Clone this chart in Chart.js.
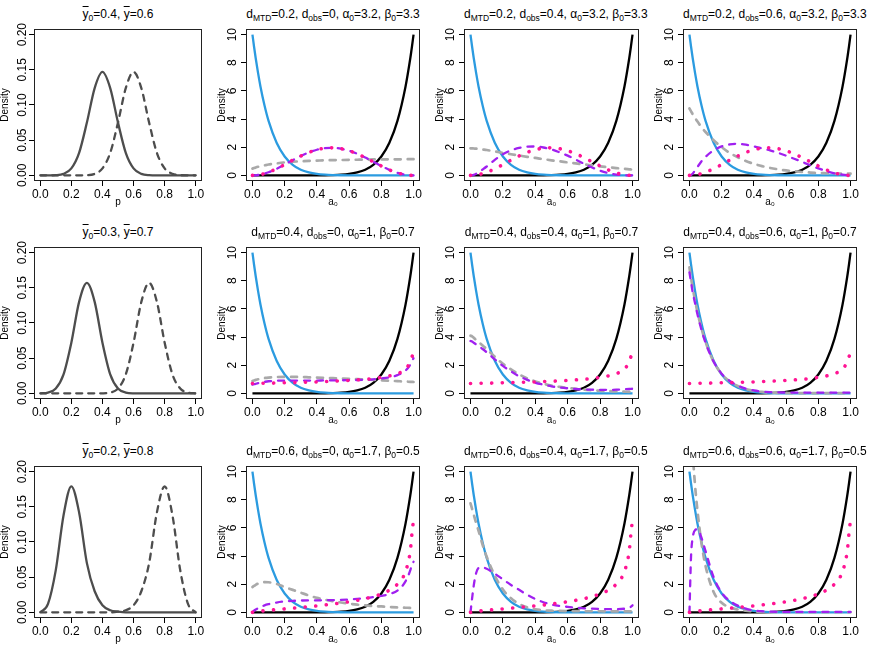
<!DOCTYPE html>
<html><head><meta charset="utf-8">
<script src="https://cdn.jsdelivr.net/npm/chart.js@4"></script>
<style>
html,body{margin:0;padding:0;background:#fff;}
body{width:872px;height:654px;position:relative;overflow:hidden;font-family:"Liberation Sans","DejaVu Sans",Arial,sans-serif;}
canvas{position:absolute;}
.ttl{position:absolute;text-align:center;font-size:12px;line-height:18px;white-space:nowrap;color:#000;}
.ttl sub{font-size:8.5px;vertical-align:-3px;line-height:0;}
.ob{text-decoration:overline;}
</style></head><body>
<script>
// ---------- tick labels ----------
const xTickVals = [0, 0.2, 0.4, 0.6, 0.8, 1.0];
const xTickLabels = ['0.0', '0.2', '0.4', '0.6', '0.8', '1.0'];
const a0YTickVals = [0, 2, 4, 6, 8, 10];
const a0YTickLabels = ['0', '2', '4', '6', '8', '10'];
const densYTickVals = [0, 0.05, 0.10, 0.15, 0.20];
const densYTickLabels = ['0.00', '0.05', '0.10', '0.15', '0.20'];

// ---------- panel parameters ----------
const ybar0 = [0.4, 0.3, 0.2];
const ybar = [0.6, 0.7, 0.8];
const dMTD = [0.2, 0.4, 0.6];
const dObs = [0, 0.4, 0.6];
const alpha0 = [3.2, 1, 1.7];
const beta0 = [3.3, 0.7, 0.5];

// ---------- column 1: densities over p ----------
const pGrid = [0, 0.05, 0.1, 0.15, 0.2, 0.25, 0.3, 0.35, 0.4, 0.45, 0.5, 0.55, 0.6, 0.65, 0.7, 0.75, 0.8, 0.85, 0.9, 0.95, 1.0];
const solidRow1 = [0, 0, 0.0003, 0.0022, 0.0099, 0.032, 0.075, 0.124, 0.147, 0.124, 0.075, 0.032, 0.0099, 0.0022, 0.0003, 0, 0, 0, 0, 0, 0];
const dashedRow1 = [0, 0, 0, 0, 0, 0, 0.0003, 0.0022, 0.0099, 0.032, 0.075, 0.124, 0.147, 0.124, 0.075, 0.032, 0.0099, 0.0022, 0.0003, 0, 0];
const solidRow2 = [0, 0.0012, 0.0069, 0.027, 0.072, 0.130, 0.157, 0.130, 0.072, 0.027, 0.0069, 0.0012, 0.0001, 0, 0, 0, 0, 0, 0, 0, 0];
const dashedRow2 = [0, 0, 0, 0, 0, 0, 0, 0, 0.0001, 0.0012, 0.0069, 0.027, 0.072, 0.130, 0.157, 0.130, 0.072, 0.027, 0.0069, 0.0012, 0];
const solidRow3 = [0, 0.012, 0.06, 0.138, 0.179, 0.142, 0.07, 0.03, 0.01, 0.003, 0.001, 0, 0, 0, 0, 0, 0, 0, 0, 0, 0];
const dashedRow3 = [0, 0, 0, 0, 0, 0, 0, 0, 0, 0, 0.001, 0.003, 0.01, 0.03, 0.07, 0.142, 0.179, 0.138, 0.06, 0.012, 0];

// ---------- columns 2-4: densities over a0 ----------
const aGrid = [0, 0.01, 0.02, 0.035, 0.05, 0.075, 0.1, 0.15, 0.2, 0.25, 0.3, 0.35, 0.4, 0.45, 0.5, 0.55, 0.6, 0.65, 0.7, 0.75, 0.8, 0.85, 0.9, 0.95, 0.98, 0.99, 1.0];
const blueCurve = [10, 9.14, 8.34, 7.26, 6.30, 4.96, 3.87, 2.32, 1.34, 0.75, 0.40, 0.21, 0.10, 0.046, 0.02, 0.008, 0.003, 0.001, 0, 0, 0, 0, 0, 0, 0, 0, 0];
const blackCurve = [0, 0, 0, 0, 0, 0, 0, 0, 0, 0, 0, 0.001, 0.003, 0.008, 0.02, 0.046, 0.10, 0.21, 0.40, 0.75, 1.34, 2.32, 3.87, 6.30, 8.34, 9.14, 10];
const pinkRow1 = [0, 0.002, 0.008, 0.026, 0.054, 0.124, 0.219, 0.469, 0.768, 1.082, 1.378, 1.632, 1.821, 1.931, 1.956, 1.892, 1.748, 1.534, 1.266, 0.969, 0.669, 0.394, 0.176, 0.040, 0.005, 0.001, 0];
const pinkRow2 = [0.70, 0.70, 0.70, 0.71, 0.71, 0.72, 0.72, 0.74, 0.75, 0.76, 0.78, 0.80, 0.81, 0.84, 0.86, 0.89, 0.92, 0.96, 1.00, 1.06, 1.14, 1.24, 1.40, 1.72, 2.26, 2.6, 2.8];
const pinkRow3 = [0, 0.027, 0.045, 0.067, 0.086, 0.116, 0.144, 0.197, 0.248, 0.299, 0.352, 0.407, 0.465, 0.527, 0.596, 0.671, 0.757, 0.855, 0.973, 1.119, 1.309, 1.577, 2.01, 2.9, 4.4, 5.6, 6.6];

const gray12 = [0.48, 0.52, 0.56, 0.61, 0.65, 0.71, 0.77, 0.85, 0.92, 0.97, 1.0, 1.03, 1.05, 1.07, 1.08, 1.09, 1.1, 1.11, 1.12, 1.13, 1.13, 1.14, 1.14, 1.15, 1.15, 1.15, 1.15];
const purple12 = [0, 0.002, 0.008, 0.026, 0.054, 0.124, 0.219, 0.469, 0.768, 1.082, 1.378, 1.632, 1.821, 1.931, 1.956, 1.892, 1.748, 1.534, 1.266, 0.969, 0.669, 0.394, 0.176, 0.040, 0.005, 0.001, 0];
const gray13 = [1.92, 1.92, 1.91, 1.9, 1.88, 1.84, 1.8, 1.7, 1.6, 1.5, 1.41, 1.32, 1.24, 1.15, 1.07, 1.0, 0.92, 0.85, 0.78, 0.71, 0.64, 0.58, 0.52, 0.46, 0.43, 0.42, 0.41];
const purple13 = [0, 0.01, 0.04, 0.12, 0.22, 0.42, 0.63, 1.1, 1.5, 1.78, 1.95, 2.04, 2.05, 1.98, 1.84, 1.64, 1.4, 1.12, 0.83, 0.56, 0.33, 0.16, 0.06, 0.01, 0, 0, 0];
const gray14 = [4.75, 4.55, 4.35, 4.08, 3.82, 3.42, 3.08, 2.5, 2.0, 1.6, 1.28, 1.02, 0.82, 0.66, 0.53, 0.43, 0.35, 0.29, 0.24, 0.2, 0.17, 0.15, 0.13, 0.12, 0.12, 0.12, 0.12];
const purple14 = [0, 0.03, 0.12, 0.35, 0.6, 1.0, 1.32, 1.78, 2.06, 2.2, 2.24, 2.18, 2.06, 1.92, 1.78, 1.6, 1.4, 1.18, 0.95, 0.72, 0.5, 0.3, 0.15, 0.05, 0.01, 0, 0];

const gray22 = [0.88, 0.92, 0.96, 1.0, 1.04, 1.09, 1.12, 1.16, 1.17, 1.17, 1.16, 1.14, 1.12, 1.1, 1.08, 1.06, 1.04, 1.01, 0.99, 0.96, 0.93, 0.9, 0.87, 0.84, 0.82, 0.82, 0.81];
const purple22 = [0.62, 0.65, 0.68, 0.73, 0.77, 0.82, 0.86, 0.9, 0.91, 0.91, 0.91, 0.91, 0.91, 0.92, 0.92, 0.93, 0.94, 0.95, 0.97, 1.0, 1.06, 1.14, 1.30, 1.62, 2.05, 2.3, 2.5];
const gray23 = [4.1, 4.05, 3.95, 3.8, 3.65, 3.4, 3.15, 2.6, 2.1, 1.7, 1.35, 1.07, 0.85, 0.68, 0.55, 0.46, 0.39, 0.32, 0.27, 0.22, 0.19, 0.16, 0.14, 0.12, 0.11, 0.11, 0.1];
const purple23 = [3.72, 3.68, 3.6, 3.48, 3.36, 3.15, 2.92, 2.42, 1.95, 1.56, 1.22, 0.96, 0.76, 0.62, 0.5, 0.42, 0.36, 0.31, 0.28, 0.26, 0.25, 0.25, 0.26, 0.29, 0.31, 0.32, 0.33];
const gray24 = [8.95, 8.2, 7.5, 6.6, 5.75, 4.6, 3.65, 2.25, 1.38, 0.85, 0.52, 0.31, 0.18, 0.1, 0.06, 0.04, 0.03, 0.02, 0.02, 0.02, 0.02, 0.02, 0.02, 0.02, 0.02, 0.02, 0.02];
const purple24 = [8.6, 7.9, 7.2, 6.4, 5.6, 4.5, 3.6, 2.25, 1.4, 0.88, 0.55, 0.34, 0.21, 0.13, 0.09, 0.07, 0.06, 0.05, 0.05, 0.05, 0.05, 0.05, 0.05, 0.05, 0.05, 0.05, 0.05];

const gray32 = [1.8, 1.88, 1.95, 2.05, 2.1, 2.15, 2.14, 2.02, 1.8, 1.6, 1.4, 1.2, 1.03, 0.9, 0.79, 0.7, 0.62, 0.55, 0.5, 0.45, 0.42, 0.38, 0.35, 0.33, 0.32, 0.31, 0.31];
const purple32 = [0, 0.12, 0.2, 0.3, 0.38, 0.5, 0.58, 0.7, 0.78, 0.82, 0.84, 0.85, 0.85, 0.86, 0.87, 0.89, 0.92, 0.96, 1.01, 1.08, 1.17, 1.3, 1.55, 2.2, 3.0, 3.4, 3.6];
const gray33 = [7.75, 7.35, 6.95, 6.35, 5.8, 4.8, 3.95, 2.6, 1.62, 1.0, 0.6, 0.36, 0.22, 0.15, 0.12, 0.1, 0.09, 0.09, 0.08, 0.08, 0.08, 0.07, 0.07, 0.07, 0.07, 0.07, 0.07];
const purple33 = [0, 1.0, 1.9, 2.8, 3.15, 3.2, 3.1, 2.75, 2.35, 1.95, 1.6, 1.25, 0.95, 0.72, 0.56, 0.46, 0.39, 0.33, 0.29, 0.26, 0.24, 0.23, 0.23, 0.26, 0.33, 0.4, 0.5];
const gray34 = [18, 15, 11.6, 9.0, 7.2, 4.9, 3.3, 1.45, 0.68, 0.35, 0.2, 0.12, 0.07, 0.04, 0.02, 0.01, 0.01, 0.01, 0.01, 0.01, 0.01, 0.01, 0.01, 0.01, 0.01, 0.01, 0.01];
const purple34 = [0, 4.0, 5.3, 5.85, 5.9, 5.3, 4.35, 2.5, 1.4, 0.82, 0.48, 0.27, 0.14, 0.08, 0.05, 0.04, 0.03, 0.03, 0.03, 0.03, 0.03, 0.03, 0.03, 0.03, 0.03, 0.03, 0.03];

// ---------- layout (page pixels) ----------
const colLeft = [34, 246, 464, 683];
const colWidth = [168, 174, 175, 174];
const rowTop = [29, 247, 466];
const boxH = 152;
const FONT = '"Liberation Sans", "DejaVu Sans", Arial, sans-serif';

const pinkRows = [pinkRow1, pinkRow2, pinkRow3];
const grayP = [[gray12, gray13, gray14], [gray22, gray23, gray24], [gray32, gray33, gray34]];
const purpleP = [[purple12, purple13, purple14], [purple22, purple23, purple24], [purple32, purple33, purple34]];
const solidRows = [solidRow1, solidRow2, solidRow3];
const dashedRows = [dashedRow1, dashedRow2, dashedRow3];

function xy(xs, ys) { return xs.map((x, i) => ({ x: x, y: ys[i] })); }

const STY = {
  pink:   { borderColor: '#ff1493', borderWidth: 3.6, borderDash: [0.1, 10.5], borderCapStyle: 'round' },
  purple: { borderColor: '#a020f0', borderWidth: 2.3, borderDash: [6, 7], borderCapStyle: 'round' },
  gray:   { borderColor: '#a9a9a9', borderWidth: 2.7, borderDash: [6, 7], borderCapStyle: 'round' },
  blue:   { borderColor: '#2b9be0', borderWidth: 2.3 },
  black:  { borderColor: '#000000', borderWidth: 2.3 },
  psolid: { borderColor: '#4d4d4d', borderWidth: 2.3 },
  pdash:  { borderColor: '#4d4d4d', borderWidth: 2.3, borderDash: [6, 6], borderCapStyle: 'round' }
};
function ds(data, st) {
  return Object.assign({ data: data, pointRadius: 0, fill: false, borderJoinStyle: 'round',
    cubicInterpolationMode: 'monotone' }, STY[st]);
}

function addTitle(r, c, html) {
  const d = document.createElement('div');
  d.className = 'ttl';
  d.style.left = colLeft[c] + 'px';
  d.style.width = colWidth[c] + 'px';
  d.style.top = (rowTop[r] - 24) + 'px';
  d.innerHTML = html;
  document.body.appendChild(d);
}

function makePanel(r, c, datasets, isP) {
  const L = 42, T = 6, R = 8, B = 32;
  const yW = isP ? 35 : 30, xH = 30;
  const w = colWidth[c] + L + R, h = boxH + T + B;
  const cv = document.createElement('canvas');
  cv.width = w; cv.height = h;
  cv.style.left = (colLeft[c] - L) + 'px';
  cv.style.top = (rowTop[r] - T) + 'px';
  cv.style.width = w + 'px'; cv.style.height = h + 'px';
  document.body.appendChild(cv);
  const yVals = isP ? densYTickVals : a0YTickVals;
  const yLabs = isP ? densYTickLabels : a0YTickLabels;
  const yMin = isP ? -0.008 : -0.4, yMax = isP ? 0.208 : 10.4;
  const yLabOff = isP ? 11 : 13;
  const gridOpt = { display: true, drawOnChartArea: false, drawTicks: true, tickLength: 5, tickWidth: 1, tickColor: '#000' };
  new Chart(cv, {
    type: 'line',
    data: { datasets: datasets },
    options: {
      responsive: false, animation: false, events: [], devicePixelRatio: 1,
      layout: { padding: { left: L - yW, top: T, right: R, bottom: B - xH } },
      plugins: { legend: { display: false }, tooltip: { enabled: false }, title: { display: false } },
      scales: {
        x: {
          type: 'linear', min: -0.04, max: 1.04, bounds: 'data',
          afterBuildTicks: s => { s.ticks = xTickVals.map(v => ({ value: v })); },
          afterFit: s => { s.height = xH; },
          ticks: { callback: (v, i) => xTickLabels[i], color: '#000', font: { family: FONT, size: 12 },
                   padding: 1, maxRotation: 0, minRotation: 0, autoSkip: false },
          grid: gridOpt, border: { display: false },
          title: { display: true, text: isP ? 'p' : 'a\u2080', color: '#000', font: { family: FONT, size: 10 },
                   padding: { top: 0, bottom: 3 } }
        },
        y: {
          type: 'linear', min: yMin, max: yMax, bounds: 'data',
          afterBuildTicks: s => { s.ticks = yVals.map(v => ({ value: v })); },
          afterFit: s => { s.width = yW; },
          ticks: { display: false },
          grid: gridOpt, border: { display: false },
          title: { display: true, text: 'Density', color: '#000', font: { family: FONT, size: 10 },
                   padding: { top: 0, bottom: 0 } }
        }
      }
    },
    plugins: [{
      id: 'rbox',
      afterDraw(chart) {
        const ctx = chart.ctx, ca = chart.chartArea, ys = chart.scales.y;
        ctx.save();
        ctx.strokeStyle = '#222'; ctx.lineWidth = 1;
        ctx.strokeRect(ca.left + 0.5, ca.top + 0.5, ca.right - ca.left - 1, ca.bottom - ca.top - 1);
        ctx.fillStyle = '#000';
        ctx.font = '12px ' + FONT;
        ctx.textAlign = 'center'; ctx.textBaseline = 'middle';
        yVals.forEach((v, i) => {
          const py = ys.getPixelForValue(v);
          ctx.save();
          ctx.translate(ca.left - yLabOff, py);
          ctx.rotate(-Math.PI / 2);
          ctx.fillText(yLabs[i], 0, 0);
          ctx.restore();
        });
        ctx.restore();
      }
    }]
  });
}

for (let r = 0; r < 3; r++) {
  addTitle(r, 0, '<span class="ob">y</span><sub>0</sub>=' + ybar0[r] + ', <span class="ob">y</span>=' + ybar[r]);
  makePanel(r, 0, [ds(xy(pGrid, solidRows[r]), 'psolid'), ds(xy(pGrid, dashedRows[r]), 'pdash')], true);
  for (let c = 1; c < 4; c++) {
    addTitle(r, c, 'd<sub>MTD</sub>=' + dMTD[r] + ', d<sub>obs</sub>=' + dObs[c - 1] +
      ', \u03b1<sub>0</sub>=' + alpha0[r] + ', \u03b2<sub>0</sub>=' + beta0[r]);
    makePanel(r, c, [
      ds(xy(aGrid, pinkRows[r]), 'pink'),
      ds(xy(aGrid, purpleP[r][c - 1]), 'purple'),
      ds(xy(aGrid, grayP[r][c - 1]), 'gray'),
      ds(xy(aGrid, blueCurve), 'blue'),
      ds(xy(aGrid, blackCurve), 'black')
    ], false);
  }
}
</script>
</body></html>
